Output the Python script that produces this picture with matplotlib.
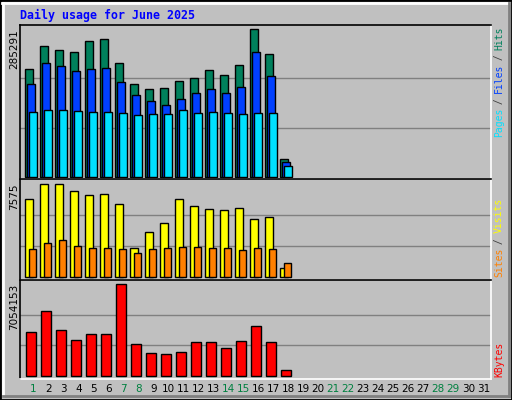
import matplotlib
matplotlib.use("Agg")
import matplotlib.pyplot as plt
from matplotlib.patches import Rectangle
from matplotlib.lines import Line2D

days = list(range(1, 19))
all_days = list(range(1, 32))
weekend_days = [1, 7, 8, 14, 15, 21, 22, 28, 29]
hits = [208000, 252400, 244600, 240800, 262100, 266000, 219500, 178900, 169200, 171100,
        184600, 190500, 205900, 196300, 215600, 285291, 236900, 33700]
files = [178800, 219500, 213700, 204000, 207900, 209800, 182700, 157500, 145900, 138200,
         149800, 161400, 169200, 161400, 173000, 240800, 194300, 27900]
pages = [124600, 128500, 128500, 126600, 124600, 124600, 122700, 118800, 120800, 120800,
         128500, 122700, 124600, 122700, 120800, 122700, 122700, 20100]
visits = [6345, 7575, 7575, 7001, 6673, 6755, 5935, 2328, 3640, 4378,
          6345, 5771, 5525, 5443, 5607, 4706, 4870, 689]
sites = [2246, 2738, 2984, 2492, 2328, 2328, 2246, 1918, 2246, 2328,
         2410, 2410, 2328, 2328, 2164, 2328, 2246, 1099]
kbytes = [3349600, 4970300, 3504000, 2732100, 3195200, 3195200, 7054153, 2423400, 1728800, 1651600,
          1806000, 2577800, 2577800, 2114700, 2654900, 3812600, 2577800, 416800]

BG = "#C0C0C0"
W, H = 512, 400
fig = plt.figure(figsize=(5.12, 4.0), dpi=100)
fig.patch.set_facecolor(BG)

def fx(px): return px / W
def fy(py): return 1 - py / H

# outer bevel
fig.patches.append(Rectangle((0, 0), 1, 1, transform=fig.transFigure, fill=False, ec="black", lw=2))
fig.lines.append(Line2D([fx(2), fx(509)], [fy(3), fy(3)], transform=fig.transFigure, color="white", lw=2))
fig.lines.append(Line2D([fx(3), fx(3)], [fy(3), fy(396)], transform=fig.transFigure, color="white", lw=2))
fig.lines.append(Line2D([fx(3), fx(509)], [fy(396), fy(396)], transform=fig.transFigure, color="#808080", lw=2))
fig.lines.append(Line2D([fx(509), fx(509)], [fy(3), fy(396)], transform=fig.transFigure, color="#808080", lw=2))

fig.text(fx(20), fy(15), "Daily usage for June 2025", color="#0000FF", fontsize=8.4,
         family="DejaVu Sans Mono", weight="bold", va="center", ha="left")

xlim = (0.113, 31.51)

def mkax(top, bot, mx, lo, hi):
    ax = fig.add_axes([fx(20), fy(bot), fx(491) - fx(20), (bot - top) / H])
    ax.set_facecolor(BG)
    ax.set_xlim(*xlim)
    ax.set_ylim(lo * mx, hi * mx)
    ax.set_xticks([]); ax.set_yticks([])
    for s in ("left", "top"):
        ax.spines[s].set_color("black")
    for s in ("right", "bottom"):
        ax.spines[s].set_color("white")
    for sp in ax.spines.values():
        sp.set_linewidth(1.2)
    for f in (1/3, 2/3):
        ax.axhline(f * mx, color="#808080", lw=1, zorder=0)
    return ax

def bars(ax, vals, off, w, col):
    ax.bar([d + off for d in days], vals, width=w, align="edge", color=col,
           edgecolor="black", linewidth=1, zorder=2)

mh = max(hits)
ax1 = mkax(25, 179, mh, -0.0156, 1.029)
bars(ax1, hits, -0.53, 0.49, "#00805C")
bars(ax1, files, -0.40, 0.49, "#0040FF")
bars(ax1, pages, -0.27, 0.49, "#00E0FF")

mv = max(visits)
ax2 = mkax(179, 280, mv, -0.036, 1.057)
bars(ax2, visits, -0.53, 0.53, "#FFFF00")
bars(ax2, sites, -0.27, 0.47, "#FF8000")

mk = max(kbytes)
ax3 = mkax(280, 379, mk, -0.036, 1.047)
bars(ax3, kbytes, -0.47, 0.67, "#FF0000")

# max labels on left
for val, top in ((mh, 29), (mv, 184), (mk, 284)):
    fig.text(fx(14), fy(top), str(val), rotation=90, fontsize=7.5, family="DejaVu Sans",
             ha="center", va="top", color="black")

# right-side legends
charw = 5.45
def rlabel(parts, bottom):
    y = bottom
    for txt, col in parts:
        fig.text(fx(499), fy(y), txt, rotation=90, fontsize=7, family="DejaVu Sans Mono",
                 ha="center", va="bottom", color=col)
        y -= charw * len(txt)

rlabel([("Pages", "#00E0FF"), (" / ", "#404040"), ("Files", "#0040FF"), (" / ", "#404040"), ("Hits", "#00805C")], 137)
rlabel([("Sites", "#FF8000"), (" / ", "#404040"), ("Visits", "#FFFF00")], 277)
rlabel([("KBytes", "#FF0000")], 377)

# day labels
for d in all_days:
    xpx = 20 + (d - xlim[0]) * 15
    fig.text(fx(xpx), fy(389), str(d), fontsize=7.5, family="DejaVu Sans", ha="center", va="center",
             color="#008040" if d in weekend_days else "black")

fig.savefig("out.png", dpi=100, facecolor=BG)
